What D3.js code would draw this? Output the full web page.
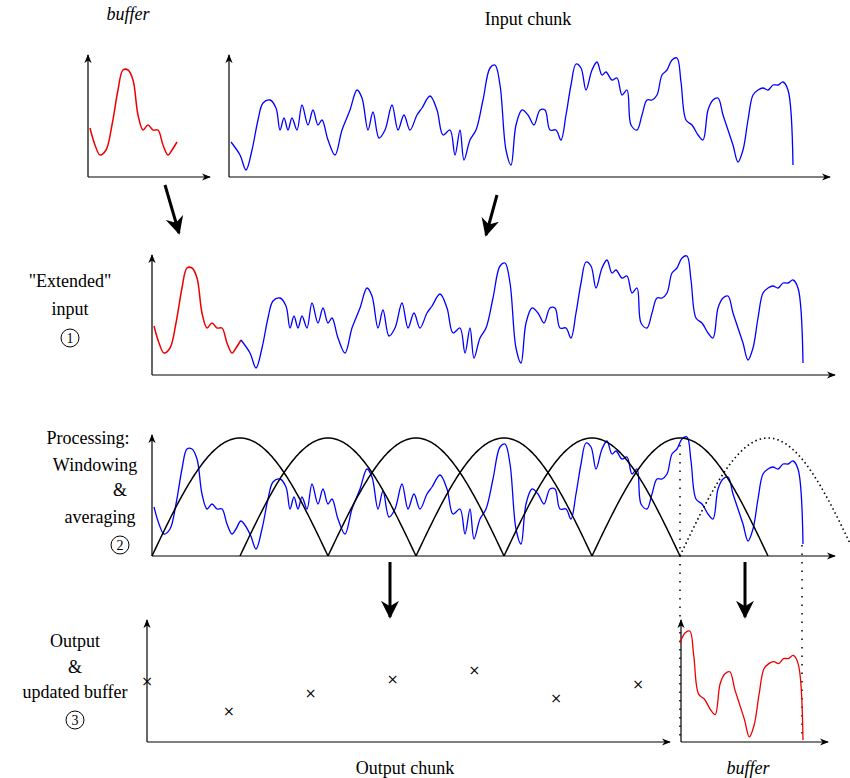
<!DOCTYPE html>
<html><head><meta charset="utf-8">
<script src="https://cdn.jsdelivr.net/npm/d3@7"></script>
<style>body{margin:0;background:#fff}</style>
</head><body><svg id="c" width="850" height="778"></svg>
<script>
// buffer signal: [t, amplitude]
const bufferT=[0,5,10,16,22,28,33,38,43,48,53,58,63,68,73,78,82,87];
const bufferV=[49,32,22,27,52,87,107,107,97,62,47,52,47,47,32,22,27,35];
// input chunk signal
const inputT=[0,9,15,21,27,32,39,45,49,53,57,61,66,71,77,82,87,91,97,104,111,119,126,131,137,142,148,154,161,167,173,179,186,191,199,206,212,219,224,229,233,239,245,252,259,264,269,275,280,285,291,297,303,309,314,319,325,330,335,340,345,350,355,361,366,371,375,381,386,391,396,400,406,411,416,421,426,431,436,441,446,450,455,461,467,472,477,482,487,492,497,502,507,512,517,522,527,532,537,542,547,552,557,562];
const inputV=[35,22,7,27,57,74,77,69,47,59,47,59,47,72,52,67,52,57,37,22,47,67,87,79,47,65,39,47,72,47,62,47,62,69,81,67,42,47,22,47,17,37,47,77,109,112,92,27,12,52,67,62,52,67,67,47,47,37,62,92,113,109,87,107,115,102,105,97,99,82,87,52,47,62,77,77,82,102,107,117,119,95,57,52,42,37,67,77,79,62,47,32,15,27,57,82,87,89,87,92,92,95,87,12];
const outputV=[61,31,49,63,72,44,58];
const windowStarts=[0,1,2,3,4,5];
const labels={buffer:"buffer",input:"Input chunk",ext1:"\"Extended\"",ext2:"input",p1:"Processing:",p2:"Windowing",p3:"&",p4:"averaging",o1:"Output",o2:"&",o3:"updated buffer",outChunk:"Output chunk"};

const SERIF="'Liberation Serif','Times New Roman','DejaVu Serif',serif";
const svg=d3.select("#c");
const defs=svg.append("defs");
defs.append("marker").attr("id","ah").attr("viewBox","0 0 10 10").attr("refX",9).attr("refY",5)
 .attr("markerWidth",9).attr("markerHeight",9).attr("markerUnits","userSpaceOnUse").attr("orient","auto")
 .append("path").attr("d","M0,1 L10,5 L0,9 L3,5 Z").attr("fill","#000");
defs.append("marker").attr("id","big").attr("viewBox","0 0 10 10").attr("refX",9).attr("refY",5)
 .attr("markerWidth",18).attr("markerHeight",18).attr("markerUnits","userSpaceOnUse").attr("orient","auto")
 .append("path").attr("d","M0,0 L10,5 L0,10 L3,5 Z").attr("fill","#000");

function axes(x0,y0,top,right){
 svg.append("line").attr("x1",x0).attr("y1",y0).attr("x2",x0).attr("y2",top).attr("stroke","#000").attr("stroke-width",1.2).attr("marker-end","url(#ah)");
 svg.append("line").attr("x1",x0).attr("y1",y0).attr("x2",right).attr("y2",y0).attr("stroke","#000").attr("stroke-width",1.2).attr("marker-end","url(#ah)");
}
function arrow(x1,y1,x2,y2){
 svg.append("line").attr("x1",x1).attr("y1",y1).attr("x2",x2).attr("y2",y2).attr("stroke","#000").attr("stroke-width",3).attr("marker-end","url(#big)");
}
function txt(x,y,s,it){svg.append("text").attr("x",x).attr("y",y).attr("text-anchor","middle").attr("font-family",SERIF).attr("font-size",18).attr("font-style",it?"italic":"normal").text(s);}
function circ(x,y,n){svg.append("circle").attr("cx",x).attr("cy",y).attr("r",9).attr("fill","none").attr("stroke","#000");
 svg.append("text").attr("x",x).attr("y",y+5).attr("text-anchor","middle").attr("font-family",SERIF).attr("font-size",14).text(n);}
const curve=d3.curveCatmullRom;
function plot(T,V,xs,ys,color,w){
 svg.append("path").datum(T.map((t,i)=>[t,V[i]])).attr("fill","none").attr("stroke",color).attr("stroke-width",w||1.3)
  .attr("d",d3.line().x(d=>xs(d[0])).y(d=>ys(d[1])).curve(curve));
}
const bufLen=bufferT[bufferT.length-1], inLen=inputT[inputT.length-1];
const extT=bufferT.concat(inputT.slice(1).map(t=>t+bufLen));
const extV=bufferV.concat(inputV.slice(1));
const extLen=bufLen+inLen;

axes(88,177,55,210);
plot(bufferT,bufferV,d3.scaleLinear([0,bufLen],[90,177]),d3.scaleLinear([0,122],[177,55]),"#e00",1.5);
txt(128,20,labels.buffer,true);
axes(229,177,55,830);
plot(inputT,inputV,d3.scaleLinear([0,inLen],[231,793]),d3.scaleLinear([0,122],[177,55]),"#00f");
txt(528,25,labels.input);
arrow(165,185,179,233); arrow(497,195,486,235);

axes(152,375,255,835);
const x3=d3.scaleLinear([0,extLen],[154,803]), y3=d3.scaleLinear([0,122],[375,253]);
plot(bufferT,bufferV,x3,y3,"#e00",1.5);
plot(inputT.map(t=>t+bufLen),inputV,x3,y3,"#00f");
txt(70,287,labels.ext1); txt(70,315,labels.ext2); circ(70,338,"1");

axes(152,556,435,835);
const y4=d3.scaleLinear([0,122],[556,434]);
plot(extT,extV,x3,y4,"#00f");
const step=88, xw=d3.scaleLinear([0,1],[152,152+step]);
const archY=d3.scaleLinear([0,1],[556,438]);
const tt=d3.range(0,1.0001,0.01);
windowStarts.concat([6]).forEach(k=>{
 svg.append("path").datum(tt).attr("fill","none").attr("stroke","#000").attr("stroke-width",k===6?1.6:1.5)
  .attr("stroke-dasharray",k===6?"1.5,3":null)
  .attr("d",d3.line().x(t=>xw(k+2*t)).y(t=>archY(Math.sin(Math.PI*t))));
});
txt(88,444,labels.p1); txt(95,471,labels.p2); txt(120,496,labels.p3); txt(100,523,labels.p4); circ(120,545,"2");
[[680,445],[802,545]].forEach(([x,y])=>svg.append("line").attr("x1",x).attr("x2",x).attr("y1",y).attr("y2",740).attr("stroke","#000").attr("stroke-width",1.5).attr("stroke-dasharray","1.5,7"));
arrow(390,562,390,617); arrow(745,562,745,617);

axes(147,742,620,670);
const x5=d3.scaleLinear([0,6],[147,638]), y5=d3.scaleLinear([0,122],[742,620]);
outputV.forEach((v,i)=>{svg.append("text").attr("x",x5(i)).attr("y",y5(v)+5).attr("text-anchor","middle").attr("font-family","DejaVu Sans").attr("font-size",14).text("×");});
txt(75,647,labels.o1); txt(75,673,labels.o2); txt(75,698,labels.o3); circ(75,720,"3");
txt(405,774,labels.outChunk);
axes(681,742,620,828);
const startT=x3.invert(680);
const idx=extT.map((t,i)=>i).filter(i=>extT[i]>=startT-6);
const x6=d3.scaleLinear([startT,extLen],[683,803]), y6=d3.scaleLinear([10,122],[742,628]);
plot(idx.map(i=>extT[i]),idx.map(i=>extV[i]),x6,y6,"#e00",1.3);
txt(748,774,labels.buffer,true);
</script></body></html>
